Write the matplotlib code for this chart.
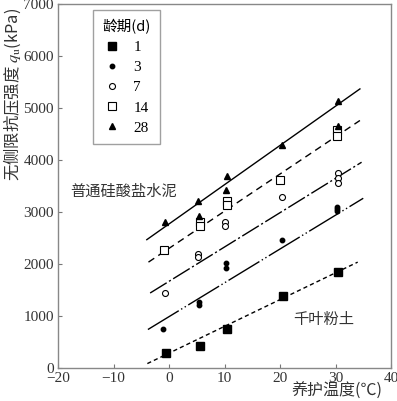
import matplotlib
matplotlib.use("Agg")
import matplotlib.pyplot as plt
from matplotlib.font_manager import FontProperties

plt.rcParams["mathtext.fontset"] = "stix"

# ---------------- data ----------------
ages = ["1", "3", "7", "14", "28"]

x_1d = [-0.5, 5.6, 10.4, 20.6, 30.5]
y_1d = [285, 431, 751, 1390, 1846]

x_3d = [-1.0, 5.4, 5.4, 10.3, 10.3, 20.4, 30.2, 30.2, 30.2]
y_3d = [758, 1270, 1210, 2020, 1930, 2470, 3090, 3050, 3010]

x_7d = [-0.7, 5.2, 5.2, 10.1, 10.1, 20.4, 30.4, 30.4, 30.4]
y_7d = [1437, 2200, 2130, 2800, 2740, 3296, 3749, 3650, 3560]

x_14d = [-0.9, 5.6, 5.6, 10.4, 10.4, 20.0, 30.3, 30.3]
y_14d = [2262, 2800, 2730, 3220, 3130, 3623, 4585, 4470]

x_28d = [-0.7, 5.2, 5.4, 10.4, 10.3, 20.3, 30.5, 30.4]
y_28d = [2800, 3220, 2930, 3700, 3420, 4289, 5130, 4660]

# fitted lines (start / end)
line_x0 = [-3.9, -3.8, -3.4, -3.7, -4.0]
line_y0 = [85, 740, 1442, 2036, 2468]
line_x1 = [34.0, 35.0, 34.7, 34.4, 34.4]
line_y1 = [2036, 3264, 3957, 4760, 5367]

x_ticks = [-20, -10, 0, 10, 20, 30, 40]
y_ticks = [0, 1000, 2000, 3000, 4000, 5000, 6000, 7000]

# ---------------- figure ----------------
W, H = 397, 401
fig = plt.figure(figsize=(W / 100, H / 100), dpi=100)
ax = fig.add_axes([58 / W, 1 - 368 / H, 333 / W, 364 / H])

serif = "Liberation Serif"
cjk = "Noto Sans CJK SC"

styles = [
    dict(marker="s", mfc="black", mec="black", ms=5.2),
    dict(marker="o", mfc="black", mec="black", ms=3.2),
    dict(marker="o", mfc="white", mec="black", ms=4.3, mew=0.8),
    dict(marker="s", mfc="white", mec="black", ms=5.2, mew=0.8),
    dict(marker="^", mfc="black", mec="black", ms=4.5),
]
line_styles = [
    (0, (3, 2.2)),
    (0, (26, 2, 1, 2, 1, 2)),
    (0, (14, 2, 1.5, 2)),
    (0, (5, 3.5)),
    "-",
]

xs = [x_1d, x_3d, x_7d, x_14d, x_28d]
ys = [y_1d, y_3d, y_7d, y_14d, y_28d]

for i in range(5):
    ax.plot([line_x0[i], line_x1[i]], [line_y0[i], line_y1[i]],
            color="black", lw=1.0, linestyle=line_styles[i], zorder=2)
    ax.plot(xs[i], ys[i], linestyle="none", label=ages[i], zorder=3, **styles[i])

ax.set_xlim(-20, 40)
ax.set_ylim(0, 7000)
ax.set_xticks(x_ticks)
ax.set_yticks(y_ticks)
ax.set_xticklabels([("\u2212" + str(-v)) if v < 0 else str(v) for v in x_ticks])
ax.tick_params(direction="in", length=3, width=0.8, color="#777777",
               labelsize=11, labelcolor="#333333", pad=3)
for lab in ax.get_xticklabels() + ax.get_yticklabels():
    lab.set_family(serif)
for s in ax.spines.values():
    s.set_color("#888888")
    s.set_linewidth(1.0)

leg = ax.legend(loc="upper left", bbox_to_anchor=(0.105, 0.984),
                prop=FontProperties(family=serif, size=11),
                title="龄期(d)",
                title_fontproperties=FontProperties(family=cjk, size=10.5),
                frameon=True, fancybox=False, edgecolor="#888888",
                handlelength=1.0, handletextpad=0.9, labelspacing=0.42,
                borderpad=0.6, borderaxespad=0, markerscale=1.0)
leg.get_frame().set_linewidth(1.0)

ax.text(-8.2, 3400, "普通硅酸盐水泥", family=cjk, fontsize=11,
        ha="center", va="center", color="#333333")
ax.text(27.8, 930, "千叶粉土", family=cjk, fontsize=11,
        ha="center", va="center", color="#333333")

fig.text(12 / W, 1 - 94 / H, "无侧限抗压强度 $q_{\\mathrm{u}}$(kPa)",
         rotation=90, ha="center", va="center", fontsize=11.8,
         family=[cjk, "DejaVu Sans"], color="#333333")
fig.text(337 / W, 1 - 391 / H, "养护温度(℃)", ha="center", va="center",
         fontsize=11.5, family=[cjk, "DejaVu Sans"], color="#333333")

fig.savefig("out.png", dpi=100)
